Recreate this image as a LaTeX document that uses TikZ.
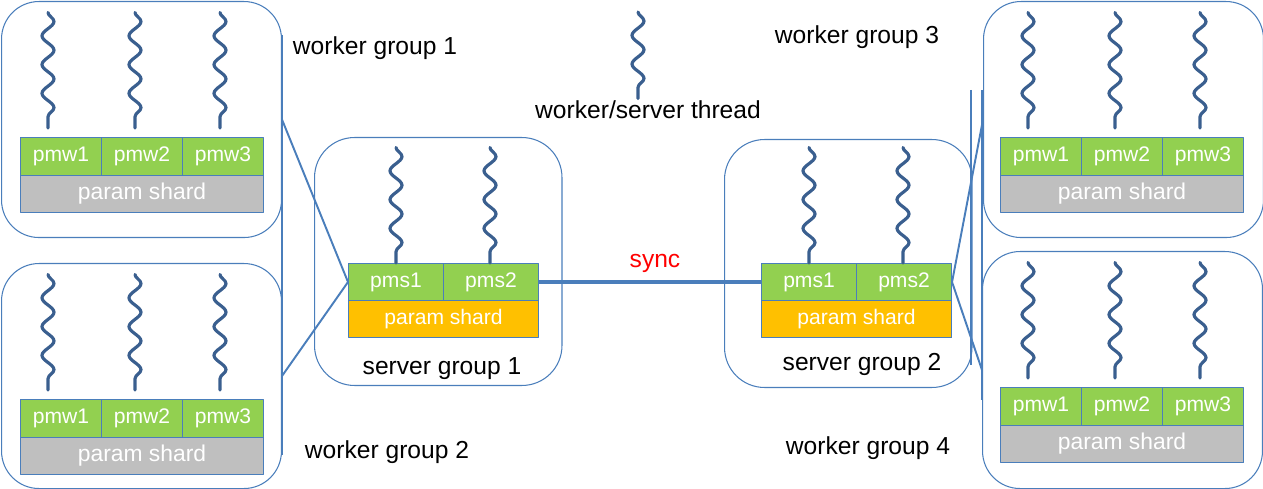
\documentclass[tikz,border=0pt]{standalone}
\usepackage{fontspec}
\setmainfont{Liberation Sans}
\usepackage{xcolor}
\usepackage{tikz}
\usetikzlibrary{decorations.pathmorphing,positioning}
\definecolor{psEdge}{HTML}{4A7EBB}
\definecolor{psThread}{HTML}{3A5F8F}
\definecolor{psGreen}{HTML}{92D050}
\definecolor{psGrey}{HTML}{BFBFBF}
\definecolor{psOrange}{HTML}{FFC000}
\definecolor{psRed}{HTML}{FF0000}
\tikzset{
  ps diagram/.style={x=0.02cm, y=-0.02cm, line join=round},
  ps group/.style={draw=psEdge, line width=0.6pt, rounded corners=0.75cm,
    inner sep=0pt, anchor=north west},
  ps cell/.style={draw=psEdge, fill=psGreen, line width=0.6pt, text=white,
    font=\fontsize{12}{14}\selectfont, inner sep=0pt, anchor=north west},
  ps shard/.style={ps cell, fill=psGrey, font=\fontsize{13}{15}\selectfont},
  ps server shard/.style={ps cell, fill=psOrange},
  ps thread/.style={draw=psThread, line width=1.8pt, line cap=round, decorate,
    decoration={snake, segment length=0.575cm, amplitude=0.12cm}},
  ps link/.style={draw=psEdge, line width=1.1pt},
  ps sync/.style={draw=psEdge, line width=2.8pt},
  ps edge/.style={draw=psEdge, line width=0.6pt},
  ps label/.style={font=\fontsize{14}{16}\selectfont, text=black}
}
\begin{document}
\begin{tikzpicture}[ps diagram]
\useasboundingbox (0,0) rectangle (1263,489);
\foreach \g/\bx/\by/\bh/\cx/\cy in {1/1/1/236/20/137, 2/1/263/225/20/399, 3/983/1/236/1000/137, 4/982/251/237/1000/387} {
  \node[ps group, minimum width=5.6cm, minimum height={\bh*0.02cm}] (wg\g) at (\bx,\by) {};
  \foreach \i in {1,2,3} {
    \node[ps cell, minimum width=1.62cm, minimum height=0.76cm] (wg\g-\i) at ({\cx+81*(\i-1)},\cy) {pmw\i};
  }
  \node[ps shard, minimum width=4.86cm, minimum height=0.74cm] (wg\g-s) at (\cx,{\cy+38}) {param shard};
  \foreach \t in {28,115,200}
    \draw[ps thread] ({\cx+\t},{\cy-124.5}) -- ({\cx+\t},{\cy-9});
}
\foreach \g/\bx/\by/\cx in {1/314/137/348, 2/724/139/761} {
  \node[ps group, rounded corners=0.8cm, minimum width=4.95cm, minimum height=4.96cm] (sg\g) at (\bx,\by) {};
  \foreach \i in {1,2} {
    \node[ps cell, minimum width=1.9cm, minimum height=0.74cm] (sg\g-\i) at ({\cx+95*(\i-1)},263) {pms\i};
  }
  \node[ps server shard, minimum width=3.8cm, minimum height=0.74cm] (sg\g-s) at (\cx,300) {param shard};
  \foreach \t in {48,142}
    \draw[ps thread] ({\cx+\t},147.5) -- ({\cx+\t},263);
}
\draw[ps edge] (282,35) -- (282,455);
\draw[ps edge] (971,90) -- (971,365);
\draw[ps edge] (982,90) -- (982,400);
\draw[ps thread] (638,12) -- (638,98.5);
\node[ps label] (legend) at (648,110) {worker/server thread};
\node[ps label] (wg1l) at (375,48) {worker group 1};
\node[ps label] (wg2l) at (387,452) {worker group 2};
\node[ps label] (wg3l) at (857,37) {worker group 3};
\node[ps label] (wg4l) at (868,448) {worker group 4};
\node[ps label] (sg1l) at (442,369) {server group 1};
\node[ps label] (sg2l) at (862,364) {server group 2};
\node[ps label, text=psRed] (syncl) at (655,263) {sync};
\draw[ps link] (wg1.east) -- (sg1-1.west);
\draw[ps link] (wg2.east) -- (sg1-1.west);
\draw[ps link] (sg2-2.east) -- (wg3.west);
\draw[ps link] (sg2-2.east) -- (wg4.west);
\draw[ps sync] (sg1-2.east) -- (sg2-1.west);
\end{tikzpicture}
\end{document}
